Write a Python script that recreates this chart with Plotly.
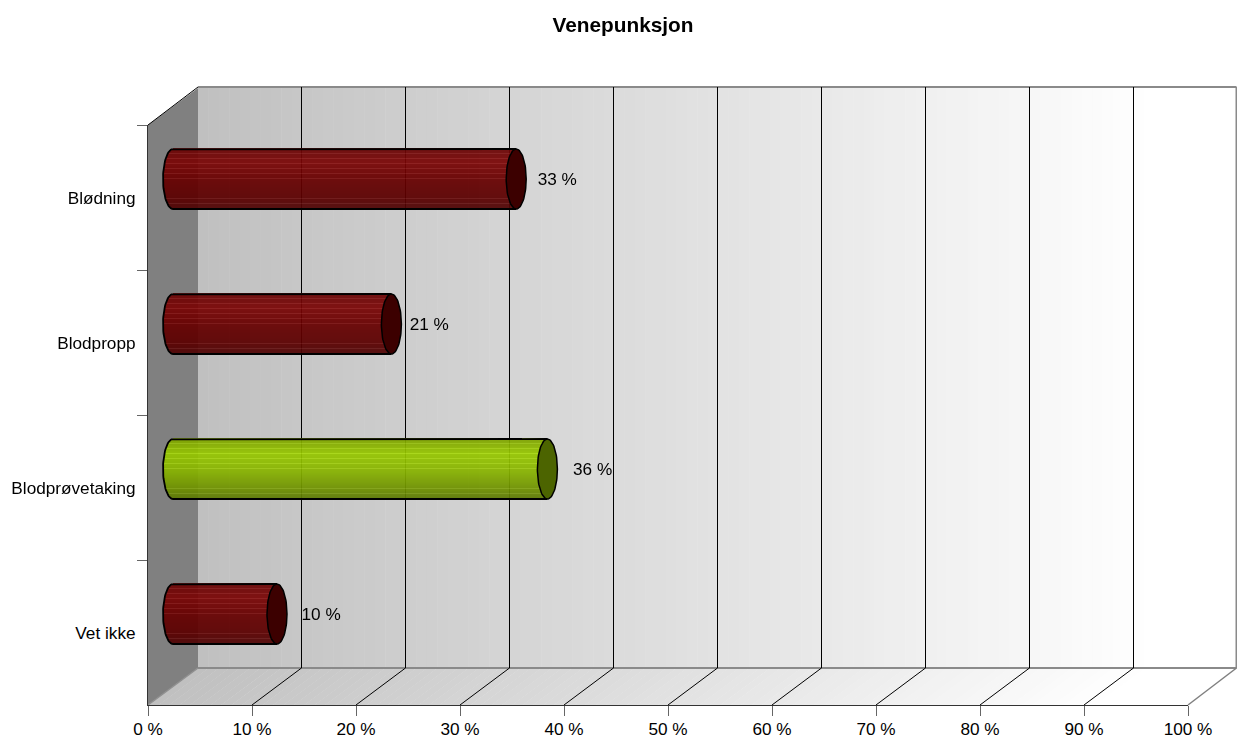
import math
import plotly.graph_objects as go

title = "Venepunksjon"
categories = ["Blødning", "Blodpropp", "Blodprøvetaking", "Vet ikke"]
values = [33, 21, 36, 10]
value_labels = ["33 %", "21 %", "36 %", "10 %"]
label_gaps = [1.1, 0.8, 1.5, 1.4]
ticks = list(range(0, 101, 10))
tick_labels = [f"{t} %" for t in ticks]
highlight = "Blodprøvetaking"

W, H = 1237, 738
X0, X100, Y_BOT, Y_TOP = 148, 1188, 705, 125
DEPTH_X, DEPTH_Y = 50, 37
PXX = (X100 - X0) / 100
PXY = (Y_BOT - Y_TOP) / 4
dx, dy = DEPTH_X / PXX, DEPTH_Y / PXY
FONT = "Liberation Sans, Arial, sans-serif"
TXT = 17.2


def lerp_stops(stops, t):
    for (a, ca), (b, cb) in zip(stops, stops[1:]):
        if a <= t <= b:
            f = (t - a) / (b - a)
            return [ca[i] + (cb[i] - ca[i]) * f for i in range(3)]
    return stops[-1][1]


RED = [(-1, (105, 6, 6)), (-0.55, (122, 6, 6)), (0.0, (104, 0, 0)), (0.6, (92, 0, 0)), (1, (80, 6, 6))]
GREEN = [(-1, (125, 160, 0)), (-0.5, (150, 198, 0)), (0.1, (135, 178, 0)), (0.65, (112, 146, 0)), (1, (92, 120, 6))]
CAP_RED, CAP_GREEN = "#3c0000", "#4c6400"


def wall_grey(frac):
    v = round(192 + 63 * min(1, frac))
    return f"rgb({v},{v},{v})"


shapes = []
for s in range(100):
    c = wall_grey((s + 0.5) / 92)
    shapes.append(dict(type="rect", xref="x", yref="y", x0=dx + s, x1=dx + s + 1.05, y0=dy, y1=4 + dy,
                       fillcolor=c, line_width=0, layer="below"))
    a, b = s, s + 1.05
    shapes.append(dict(type="path", xref="x", yref="y",
                       path=f"M {a} 0 L {b} 0 L {b + dx} {dy} L {a + dx} {dy} Z",
                       fillcolor=c, line_width=0, layer="below"))
shapes.append(dict(type="path", xref="x", yref="y", path=f"M 0 0 L {dx} {dy} L {dx} {4 + dy} L 0 4 Z",
                   fillcolor="#808080", line_width=0, layer="below"))


def seg(x0, y0, x1, y1, color, width):
    shapes.append(dict(type="line", xref="x", yref="y", x0=x0, y0=y0, x1=x1, y1=y1,
                       line=dict(color=color, width=width), layer="below"))


half = 0.5 / PXX
top_y = 4 + dy + 1 / PXY
right_x = 100 + dx - 1.5 / PXX
seg(dx, dy, right_x, dy, "#8a8a8a", 2)
seg(dx, top_y, right_x, top_y, "#8a8a8a", 2)
seg(right_x, dy, right_x, top_y, "#8a8a8a", 2)
seg(100, 0, right_x, dy, "#808080", 1.5)
seg(0, 0, dx, dy, "#909090", 1.5)
seg(0, 4, dx, top_y, "#000000", 1)
for t in ticks[1:-1]:
    seg(t + dx - half, dy, t + dx - half, top_y, "#000000", 1)
    seg(t, 0, t + dx - half, dy, "#000000", 1)

# Cylinders: a stack of one-pixel bars follows the rounded left end
A_PX, B_PX = 10, 30
a_u, b_u = A_PX / PXX, B_PX / PXY
rows = 2 * B_PX + 1
bar_y, bar_x, bar_base, bar_col = [], [], [], []
traces_after = []
for i, (cat, val) in enumerate(zip(categories, values)):
    cy = 4 - i - 0.5 + dy / 2
    sx = dx / 2
    stops = GREEN if cat == highlight else RED
    for r in range(rows):
        t = -1 + 2 * r / (rows - 1)
        bulge = a_u * math.sqrt(max(0, 1 - t * t))
        rgb = lerp_stops(stops, t)
        if r % 5 == 0 and (t < 0.05 or t > 0.65):
            rgb = [min(255, c + 18) for c in rgb]
        bar_y.append(cy - t * b_u)
        bar_base.append(sx - bulge)
        bar_x.append(val + bulge)
        bar_col.append("rgb({:.0f},{:.0f},{:.0f})".format(*rgb))
    ang = [k * math.pi / 40 for k in range(81)]
    cap_x = [sx + val + a_u * math.cos(u) for u in ang]
    cap_y = [cy + b_u * math.sin(u) for u in ang]
    traces_after.append(go.Scatter(x=cap_x, y=cap_y, mode="lines", fill="toself",
                                   fillcolor=CAP_GREEN if cat == highlight else CAP_RED,
                                   line=dict(color="#000000", width=1.5), hoverinfo="skip", showlegend=False))
    arc = [math.pi / 2 + k * math.pi / 40 for k in range(41)]
    out_x = [sx + val] + [sx + a_u * math.cos(u) for u in arc] + [sx + val]
    out_y = [cy + b_u] + [cy + b_u * math.sin(u) for u in arc] + [cy - b_u]
    traces_after.append(go.Scatter(x=out_x, y=out_y, mode="lines", line=dict(color="#000000", width=1.8),
                                   hoverinfo="skip", showlegend=False))

fig = go.Figure()
fig.add_trace(go.Bar(orientation="h", y=bar_y, x=bar_x, base=bar_base, width=1.02 / PXY,
                     marker=dict(color=bar_col, line_width=0), opacity=0.94,
                     hoverinfo="skip", showlegend=False, xaxis="x", yaxis="y"))
for tr in traces_after:
    fig.add_trace(tr)

label_x = [dx / 2 + v + a_u + g for v, g in zip(values, label_gaps)]
label_y = [4 - i - 0.5 + dy / 2 - 1.5 / PXY for i in range(len(categories))]
fig.add_trace(go.Scatter(x=label_x, y=label_y, mode="text", text=value_labels, textposition="middle right",
                         textfont=dict(family=FONT, size=TXT, color="#000000"), cliponaxis=False,
                         hoverinfo="skip", showlegend=False))
# Carrier for the visible front axes
fig.add_trace(go.Bar(orientation="h", y=categories, x=values, opacity=0, xaxis="x2", yaxis="y2",
                     hoverinfo="skip", showlegend=False))

fig.update_layout(
    template="none",
    width=W, height=H, autosize=False, margin=dict(l=0, r=0, t=0, b=0, pad=0),
    paper_bgcolor="#ffffff", plot_bgcolor="rgba(0,0,0,0)", barmode="overlay", bargap=0, showlegend=False,
    font=dict(family=FONT, size=TXT, color="#000000"),
    title=dict(text=title, x=623 / W, xanchor="center", xref="paper", y=1 - 25 / H, yanchor="middle",
               font=dict(family=FONT, size=20.8, color="#000000", weight="bold"), automargin=False),
    shapes=shapes,
    xaxis=dict(domain=[0, 1], range=[-X0 / PXX, (W - X0) / PXX], visible=False, fixedrange=True, automargin=False),
    yaxis=dict(domain=[0, 1], range=[-(H - Y_BOT) / PXY, Y_BOT / PXY], visible=False, fixedrange=True, automargin=False),
    xaxis2=dict(domain=[X0 / W, X100 / W], range=[0, 100], anchor="y2", tickmode="array", tickvals=ticks,
                ticktext=tick_labels, ticks="outside", ticklen=10, tickwidth=1, tickcolor="#666666",
                showline=True, linecolor="#333333", linewidth=1, showgrid=False, zeroline=False, automargin=False,
                ticklabelstandoff=-2,
                tickfont=dict(family=FONT, size=TXT, color="#000000")),
    yaxis2=dict(domain=[(H - Y_BOT) / H, (H - Y_TOP) / H], anchor="x2", type="category",
                categoryorder="array", categoryarray=categories, range=[3.5, -0.5], tickson="boundaries",
                ticks="outside", ticklen=10, tickwidth=1, tickcolor="#666666", showline=True, automargin=False,
                linecolor="#333333", linewidth=1, showgrid=False, zeroline=False, ticklabelstandoff=8,
                tickfont=dict(family=FONT, size=TXT, color="#000000")),
)

fig.write_html("out.html", config={"displayModeBar": False},
               post_script="document.body.style.margin='0';")
